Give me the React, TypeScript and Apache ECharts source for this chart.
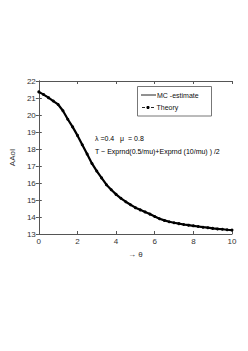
import React, { useEffect, useRef } from "react";
import * as echarts from "echarts";

const xs = [0, 0.25, 0.5, 0.75, 1, 1.25, 1.5, 1.75, 2, 2.25, 2.5, 2.75, 3, 3.25, 3.5, 3.75, 4, 4.25, 4.5, 4.75, 5, 5.25, 5.5, 5.75, 6, 6.25, 6.5, 6.75, 7, 7.25, 7.5, 7.75, 8, 8.25, 8.5, 8.75, 9, 9.25, 9.5, 9.75, 10];
const mcEstimate = [21.36, 21.2, 21.02, 20.82, 20.62, 20.25, 19.75, 19.3, 18.8, 18.25, 17.7, 17.15, 16.7, 16.3, 15.9, 15.6, 15.33, 15.1, 14.9, 14.72, 14.55, 14.42, 14.3, 14.17, 14.03, 13.9, 13.8, 13.72, 13.66, 13.61, 13.56, 13.52, 13.48, 13.44, 13.4, 13.37, 13.33, 13.3, 13.28, 13.25, 13.23];
const theory = [21.36, 21.2, 21.02, 20.82, 20.62, 20.25, 19.75, 19.3, 18.8, 18.25, 17.7, 17.15, 16.7, 16.3, 15.9, 15.6, 15.33, 15.1, 14.9, 14.72, 14.55, 14.42, 14.3, 14.17, 14.03, 13.9, 13.8, 13.72, 13.66, 13.61, 13.56, 13.52, 13.48, 13.44, 13.4, 13.37, 13.33, 13.3, 13.28, 13.25, 13.23];
const legendNames = ["MC -estimate", "Theory"];

const FONT = "Liberation Sans, Arial, sans-serif";

export default function App() {
  const ref = useRef<HTMLDivElement>(null);
  useEffect(() => {
    if (!ref.current) return;
    const chart = echarts.init(ref.current, undefined, { renderer: "svg" });
    const axisCommon = {
      axisLine: { show: true, lineStyle: { color: "#555", width: 1 } },
      axisTick: { show: true, inside: true, length: 3, lineStyle: { color: "#555" } },
      splitLine: { show: false },
    };
    chart.setOption({
      animation: false,
      backgroundColor: "#fff",
      textStyle: { fontFamily: FONT },
      grid: { left: 32, right: 16, top: 81, bottom: 117, containLabel: false },
      xAxis: [
        {
          type: "value", min: 0, max: 10, interval: 2, position: "bottom",
          ...axisCommon,
          axisLabel: { fontSize: 8, color: "#333", margin: 3, fontFamily: FONT },
          name: "→ θ", nameLocation: "middle", nameGap: 16,
          nameTextStyle: { fontSize: 8, color: "#333", fontFamily: FONT },
        },
        {
          type: "value", min: 0, max: 10, interval: 2, position: "top",
          ...axisCommon, axisLabel: { show: false },
        },
      ],
      yAxis: [
        {
          type: "value", min: 13, max: 22, interval: 1, position: "left",
          ...axisCommon,
          axisLabel: { fontSize: 8, color: "#333", margin: 3, fontFamily: FONT },
          name: "AAoI", nameLocation: "middle", nameGap: 15, nameRotate: 90,
          nameTextStyle: { fontSize: 8, color: "#333", fontFamily: FONT },
        },
        {
          type: "value", min: 13, max: 22, interval: 1, position: "right",
          ...axisCommon, axisLabel: { show: false },
        },
      ],
      series: [
        {
          name: legendNames[0],
          type: "line",
          data: xs.map((x, i) => [x, mcEstimate[i]]),
          showSymbol: false,
          symbol: "none",
          lineStyle: { color: "#000", width: 2.2 },
          itemStyle: { color: "#000" },
        },
        {
          name: legendNames[1],
          type: "line",
          data: xs.map((x, i) => [x, theory[i]]),
          symbol: "circle",
          symbolSize: 3,
          lineStyle: { color: "#000", width: 1, type: "dashed" },
          itemStyle: { color: "#000" },
        },
      ],
      graphic: [
        {
          type: "rect", shape: { x: 137.5, y: 86.5, width: 74, height: 29.5 },
          style: { fill: "#fff", stroke: "#777", lineWidth: 1 },
        },
        { type: "line", shape: { x1: 141, y1: 95, x2: 156, y2: 95 }, style: { stroke: "#222", lineWidth: 1 } },
        {
          type: "text", x: 157, y: 95,
          style: { text: legendNames[0], fontSize: 7, fill: "#111", fontFamily: FONT, verticalAlign: "middle" },
        },
        { type: "line", shape: { x1: 142, y1: 107.5, x2: 145, y2: 107.5 }, style: { stroke: "#222", lineWidth: 1 } },
        { type: "line", shape: { x1: 151, y1: 107.5, x2: 154, y2: 107.5 }, style: { stroke: "#222", lineWidth: 1 } },
        { type: "circle", shape: { cx: 148, cy: 107.5, r: 1.6 }, style: { fill: "#000" } },
        {
          type: "text", x: 156.5, y: 107.5,
          style: { text: legendNames[1], fontSize: 7, fill: "#111", fontFamily: FONT, verticalAlign: "middle" },
        },
        {
          type: "text", x: 95, y: 138.5,
          style: { text: "λ =0.4   μ  = 0.8", fontSize: 7, fill: "#000", fontFamily: FONT, verticalAlign: "middle" },
        },
        {
          type: "text", x: 95, y: 151,
          style: { text: "T ~ Exprnd(0.5/mu)+Exprnd (10/mu) ) /2", fontSize: 7, fill: "#000", fontFamily: FONT, verticalAlign: "middle" },
        },
      ],
    });
    return () => chart.dispose();
  }, []);
  return (
    <div
      ref={ref}
      style={{ position: "fixed", left: 0, top: 0, width: 248, height: 351 }}
    />
  );
}
